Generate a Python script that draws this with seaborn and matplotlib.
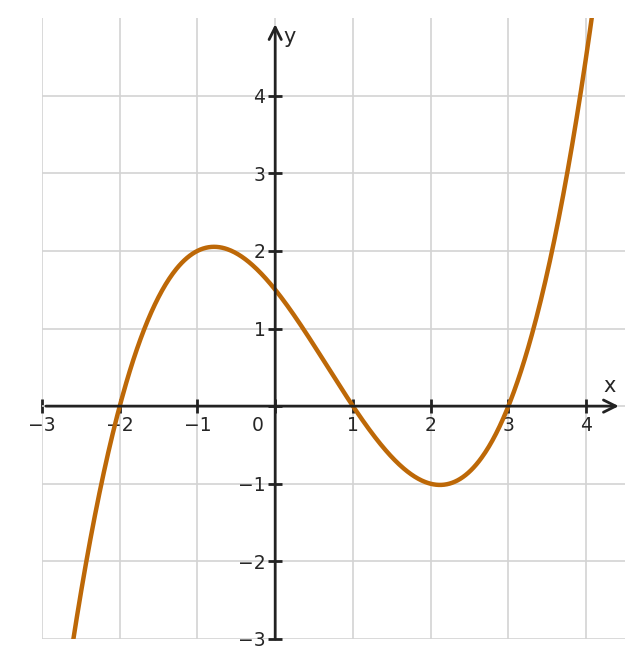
import numpy as np
import pandas as pd
import matplotlib
matplotlib.use("Agg")
import matplotlib.pyplot as plt
import seaborn as sns

# Data: cubic through roots -2, 1, 3 with leading coefficient 0.25
roots = [-2, 1, 3]
lead = 0.25
x_range = [-2.7, 4.2]
xticks = [-3, -2, -1, 0, 1, 2, 3, 4]
yticks = [-3, -2, -1, 0, 1, 2, 3, 4]

xs = np.linspace(x_range[0], x_range[1], 600)
ys = lead * np.prod([xs - r for r in roots], axis=0)
df = pd.DataFrame({"x": xs, "y": ys})

sns.set_theme(style="whitegrid")
plt.rcParams['font.family'] = ['DejaVu Sans']

fig = plt.figure(figsize=(6.42, 6.68), dpi=100)
ax = fig.add_axes([42/642, 29/668, (625-42)/642, (639-18)/668])

sns.lineplot(data=df, x="x", y="y", ax=ax, color="#bd6807", linewidth=3.2, sort=False)

ax.set_xlim(-3, 4.5)
ax.set_ylim(-3, 5)
ax.set_xticks(xticks)
ax.set_yticks(yticks)
ax.set_xticklabels([("" if t == 0 else f"\u2212{abs(t)}" if t < 0 else str(t)) for t in xticks])
ax.set_yticklabels([("" if t == 0 else f"\u2212{abs(t)}" if t < 0 else str(t)) for t in yticks])
ax.grid(True, color="#d3d3d3", linewidth=1.2)
ax.set_xlabel("")
ax.set_ylabel("")

for s in ["left", "bottom"]:
    ax.spines[s].set_position("zero")
    ax.spines[s].set_visible(False)
for s in ["right", "top"]:
    ax.spines[s].set_visible(False)

ax.tick_params(axis="both", which="both", direction="inout", length=10, width=2,
               color="#222222", labelsize=13.5, labelcolor="#262626", pad=2,
               bottom=True, left=True)

axcol = "#222222"
ax.annotate("", xy=(4.42, 0), xytext=(-2.95, 0),
            arrowprops=dict(arrowstyle="->", lw=2, color=axcol, mutation_scale=22,
                            shrinkA=0, shrinkB=0), zorder=3)
ax.annotate("", xy=(0, 4.92), xytext=(0, -3),
            arrowprops=dict(arrowstyle="->", lw=2, color=axcol, mutation_scale=22,
                            shrinkA=0, shrinkB=0), zorder=3)

ax.text(-0.22, -0.25, "0", fontsize=13.5, color="#262626", ha="center", va="center")
ax.text(4.3, 0.26, "x", fontsize=15, color="#262626", ha="center", va="center")
ax.text(0.18, 4.76, "y", fontsize=15, color="#262626", ha="center", va="center")

fig.savefig("out.png", dpi=100)
